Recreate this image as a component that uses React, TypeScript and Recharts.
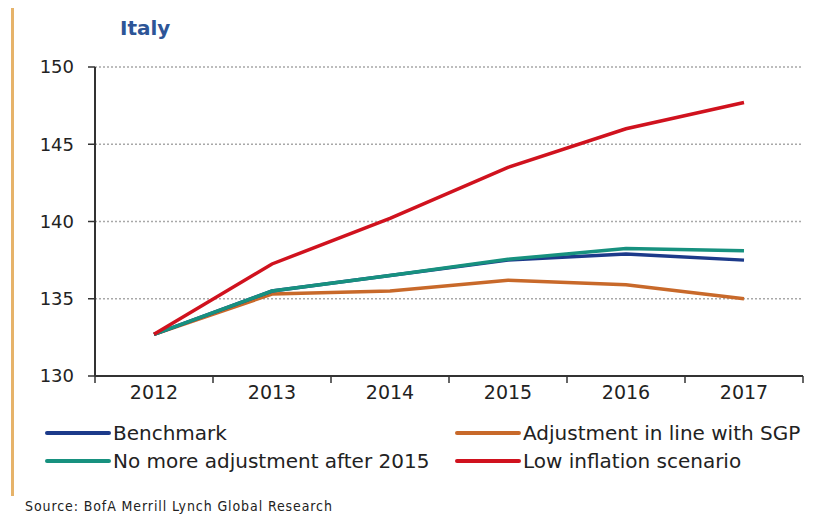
import React from 'react';
import { LineChart, Line, XAxis, YAxis, CartesianGrid, Legend } from 'recharts';

// values (debt-to-GDP, Italy)
const YEARS = ['2012', '2013', '2014', '2015', '2016', '2017'];
const BENCHMARK = [132.7, 135.5, 136.5, 137.5, 137.9, 137.5];
const SGP = [132.7, 135.3, 135.5, 136.2, 135.9, 135.0];
const NO_MORE = [132.7, 135.5, 136.5, 137.55, 138.25, 138.1];
const LOW_INFLATION = [132.7, 137.25, 140.2, 143.5, 146.0, 147.7];
const Y_TICKS = [130, 135, 140, 145, 150];

const SERIES = [
  { key: 'sgp', name: 'Adjustment in line with SGP', color: '#C8692A' },
  { key: 'benchmark', name: 'Benchmark', color: '#1C3A8A' },
  { key: 'noMore', name: 'No more adjustment after 2015', color: '#17917F' },
  { key: 'low', name: 'Low inflation scenario', color: '#D0121E' },
];
const LEGEND_ORDER = ['Benchmark', 'Adjustment in line with SGP', 'No more adjustment after 2015', 'Low inflation scenario'];

const data = YEARS.map((year, i) => ({
  year,
  benchmark: BENCHMARK[i],
  sgp: SGP[i],
  noMore: NO_MORE[i],
  low: LOW_INFLATION[i],
}));

const FONT = "'DejaVu Sans', sans-serif";
const W = 823;
const H = 514;
const MARGIN = { top: 67, right: 20, bottom: 108, left: 35 };
const Y_WIDTH = 60;
const STEP = (W - MARGIN.left - MARGIN.right - Y_WIDTH) / YEARS.length;

const XTick = (props: any) => {
  const { x, y, payload, index } = props;
  const half = STEP / 2;
  return (
    <g>
      <line x1={x - half} y1={y} x2={x - half} y2={y + 7} stroke="#333" strokeWidth={1.5} />
      {index === YEARS.length - 1 && (
        <line x1={x + half} y1={y} x2={x + half} y2={y + 7} stroke="#333" strokeWidth={1.5} />
      )}
      <text x={x} y={y + 23} textAnchor="middle" fill="#222" fontSize={19} fontFamily={FONT}>
        {payload.value}
      </text>
    </g>
  );
};

const LegendContent = (props: any) => {
  const items = [...(props.payload || [])].sort(
    (a: any, b: any) => LEGEND_ORDER.indexOf(a.value) - LEGEND_ORDER.indexOf(b.value)
  );
  return (
    <div style={{ display: 'grid', gridTemplateColumns: '410px 370px', rowGap: 6, paddingLeft: 45 }}>
      {items.map((item: any) => (
        <div key={item.value} style={{ display: 'flex', alignItems: 'center', height: 22 }}>
          <span style={{ width: 66, height: 4, background: item.color, borderRadius: 2, marginRight: 2 }} />
          <span style={{ fontFamily: FONT, fontSize: 20, color: '#222', whiteSpace: 'nowrap' }}>{item.value}</span>
        </div>
      ))}
    </div>
  );
};

export default function App() {
  return (
    <div style={{ position: 'absolute', left: 0, top: 0, width: W, height: H, background: '#fff', overflow: 'hidden' }}>
      <div style={{ position: 'absolute', left: 11, top: 8, width: 3, height: 488, background: '#E6B36A' }} />
      <div
        style={{
          position: 'absolute', left: 120, top: 16, fontFamily: FONT, fontWeight: 'bold',
          fontSize: 20, color: '#2D5597',
        }}
      >
        Italy
      </div>
      <LineChart width={W} height={H} data={data} margin={MARGIN}>
        <CartesianGrid vertical={false} stroke="#a8a8a8" strokeDasharray="2 2" strokeWidth={1.5} />
        <XAxis
          dataKey="year"
          axisLine={{ stroke: '#333', strokeWidth: 2 }}
          tickLine={false}
          tickSize={0}
          tickMargin={0}
          tick={<XTick />}
          interval={0}
          padding={{ left: STEP / 2, right: STEP / 2 }}
        />
        <YAxis
          width={Y_WIDTH}
          domain={[130, 150]}
          ticks={Y_TICKS}
          axisLine={{ stroke: '#333', strokeWidth: 2 }}
          tickLine={{ stroke: '#333', strokeWidth: 1.5 }}
          tickSize={7}
          tickMargin={14}
          tick={{ fill: '#222', fontSize: 18, fontFamily: FONT }}
        />
        <Legend
          verticalAlign="middle"
          align="center"
          layout="horizontal"
          content={<LegendContent />}
          wrapperStyle={{ top: 422, left: 0, width: W }}
        />
        {SERIES.map((s) => (
          <Line
            key={s.key}
            type="linear"
            dataKey={s.key}
            name={s.name}
            stroke={s.color}
            strokeWidth={3.5}
            dot={false}
            activeDot={false}
            isAnimationActive={false}
          />
        ))}
      </LineChart>
      <div
        style={{
          position: 'absolute', left: 25, top: 498, fontFamily: "'DejaVu Sans Condensed', 'DejaVu Sans', sans-serif",
          fontSize: 14, letterSpacing: 0.9, color: '#222',
        }}
      >
        Source: BofA Merrill Lynch Global Research
      </div>
    </div>
  );
}
